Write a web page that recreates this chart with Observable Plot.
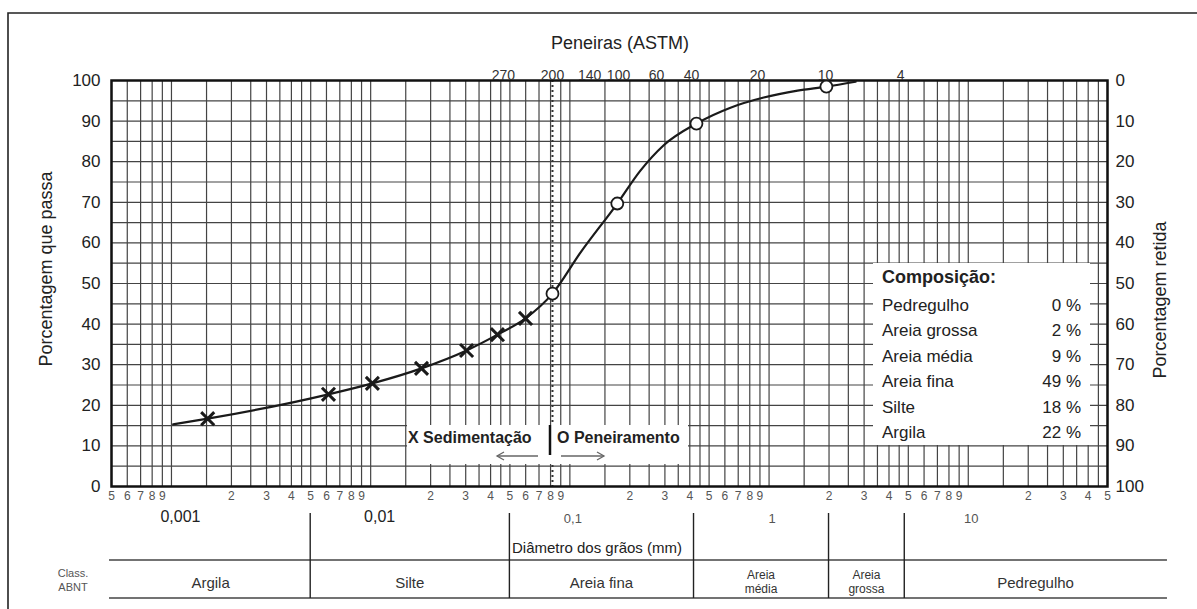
<!DOCTYPE html>
<html><head><meta charset="utf-8">
<script src="https://cdn.jsdelivr.net/npm/d3@7"></script>
<script src="https://cdn.jsdelivr.net/npm/@observablehq/plot@0.6"></script>
<style>
body{margin:0;background:#fff;}
#chart svg{display:block;}
</style></head><body><div id="chart"></div>
<script>
// ---- data ----
const sedDiam = [0.00152, 0.00614, 0.0102, 0.0180, 0.0303, 0.0433, 0.0599];
const sedPass = [16.7, 22.7, 25.4, 29.1, 33.5, 37.4, 41.4];
const sieveDiam = [0.0818, 0.173, 0.432, 1.94];
const sievePass = [47.5, 69.7, 89.4, 98.5];
const curveDiam = [0.00102, 0.00152, 0.00614, 0.0102, 0.0180, 0.0303, 0.0433, 0.0599, 0.0818, 0.113, 0.173, 0.226, 0.295, 0.432, 0.640, 0.94, 1.39, 1.94, 2.72];
const curvePass = [15.3, 16.7, 22.7, 25.4, 29.1, 33.5, 37.4, 41.4, 47.5, 57.6, 69.7, 77.8, 84.0, 89.4, 93.3, 95.8, 97.5, 98.5, 99.7];
const sieveNums = ["270", "200", "140", "100", "60", "40", "20", "10", "4"];
const sieveLabelDiam = [0.0464, 0.0818, 0.1256, 0.1755, 0.272, 0.408, 0.875, 1.92, 4.57];
const no200 = [0.0818];
const decadeVals = [0.001, 0.01, 0.1, 1, 10];
const decadeLabels = ["0,001", "0,01", "0,1", "1", "10"];
const yTicks = [0, 10, 20, 30, 40, 50, 60, 70, 80, 90, 100];
const classBounds = [0.0005, 0.005, 0.05, 0.42, 2.0, 4.8, 100];
const classNames = ["Argila", "Silte", "Areia fina", "Areia\nmédia", "Areia\ngrossa", "Pedregulho"];
const compNames = ["Pedregulho", "Areia grossa", "Areia média", "Areia fina", "Silte", "Argila"];
const compValues = [0, 2, 9, 49, 18, 22];

// grid (semilog paper subdivisions)
const subdiv = [1, 1.5, 2, 2.5, 3, 3.5, 4, 4.5, 5, 6, 7, 8, 9];
const vGrid = [];
for (let k = -4; k <= 1; k++) for (const m of subdiv) { const v = +(m * 10 ** k).toPrecision(3); if (v >= 0.0005 && v <= 50) vGrid.push(v); }
const hGrid = d3.range(0, 101, 5);
const minorTicks = [];
for (let k = -4; k <= 1; k++) for (let m = 2; m <= 9; m++) { const v = +(m * 10 ** k).toPrecision(3); if (v >= 0.0005 && v <= 50) minorTicks.push({d: v, t: String(m)}); }

const sed = sedDiam.map((d, i) => ({d, p: sedPass[i]}));
const siv = sieveDiam.map((d, i) => ({d, p: sievePass[i]}));
const crv = curveDiam.map((d, i) => ({d, p: curvePass[i]}));
const sieveLab = sieveNums.map((t, i) => ({t, d: sieveLabelDiam[i]}));
const decs = decadeVals.map((d, i) => ({d, t: decadeLabels[i]}));

const FONT = "Liberation Sans, Arial, Helvetica, sans-serif";
const W = 1197, H = 609;

const plot = Plot.plot({
  width: W, height: H,
  marginLeft: 111, marginRight: 90, marginTop: 80, marginBottom: 123,
  style: {fontFamily: FONT, background: "#fff", color: "#222"},
  x: {type: "log", domain: [0.0005, 50], axis: null},
  y: {domain: [0, 100], axis: null},
  marks: [
    Plot.ruleX(vGrid, {stroke: "#444", strokeWidth: 1.2}),
    Plot.ruleY(hGrid, {stroke: "#444", strokeWidth: 1.2}),
    Plot.ruleX(no200, {stroke: "#333", strokeWidth: 2, strokeDasharray: "2,3"}),
    Plot.frame({stroke: "#111", strokeWidth: 2.5}),
    Plot.axisY({ticks: yTicks, tickSize: 0, tickPadding: 11, fontSize: 17, label: null}),
    Plot.axisY({anchor: "right", ticks: yTicks, tickSize: 0, tickPadding: 8, fontSize: 17, tickFormat: d => 100 - d, label: null}),
    Plot.text(minorTicks, {x: "d", text: "t", frameAnchor: "bottom", dy: 13, fontSize: 12, fill: "#555"}),
    Plot.text(decs.slice(0, 2), {x: "d", text: "t", frameAnchor: "bottom", dy: 35, dx: 9, fontSize: 16, fill: "#222"}),
    Plot.text(decs.slice(2), {x: "d", text: "t", frameAnchor: "bottom", dy: 36, dx: 3, fontSize: 13, fill: "#555"}),
    Plot.text(sieveLab, {x: "d", text: "t", frameAnchor: "top", dy: -10, fontSize: 14, fill: "#333"}),
    Plot.line(crv, {x: "d", y: "p", curve: "monotone-x", stroke: "#1a1a1a", strokeWidth: 2.2}),
    Plot.dot(sed, {x: "d", y: "p", symbol: "times", r: 6, stroke: "#1a1a1a", strokeWidth: 3}),
    Plot.dot(siv, {x: "d", y: "p", r: 6, fill: "#fff", stroke: "#1a1a1a", strokeWidth: 1.8})
  ]
});
document.getElementById("chart").appendChild(plot);

const xs = plot.scale("x").apply;
const svg = d3.select(plot);
const g = svg.append("g").attr("font-family", FONT).attr("text-anchor", "start");

// outer frame (partly cut off at right/bottom)
g.append("path").attr("d", `M8,${H} V13 H${W}`).attr("fill", "none").attr("stroke", "#222").attr("stroke-width", 1.6);

// titles
g.append("text").attr("x", 620).attr("y", 49).attr("text-anchor", "middle").attr("font-size", 18).attr("fill", "#222").text("Peneiras (ASTM)");
g.append("text").attr("transform", "translate(52,269) rotate(-90)").attr("text-anchor", "middle").attr("font-size", 18).attr("fill", "#222").text("Porcentagem que passa");
g.append("text").attr("transform", "translate(1166,300) rotate(-90)").attr("text-anchor", "middle").attr("font-size", 18).attr("fill", "#222").text("Porcentagem retida");
g.append("text").attr("x", 597).attr("y", 553).attr("text-anchor", "middle").attr("font-size", 15).attr("fill", "#222").text("Diâmetro dos grãos (mm)");

// ABNT classification table
const t0 = xs(classBounds[0]) - 2, t1 = xs(classBounds[classBounds.length - 1]);
[560, 598].forEach(y => g.append("line").attr("x1", t0).attr("x2", t1).attr("y1", y).attr("y2", y).attr("stroke", "#444").attr("stroke-width", 1.6));
classBounds.slice(1, -1).forEach(b => g.append("line").attr("x1", xs(b)).attr("x2", xs(b)).attr("y1", 513).attr("y2", 598).attr("stroke", "#222").attr("stroke-width", 1.4));
classNames.forEach((n, i) => {
  const cx = (xs(classBounds[i]) + xs(classBounds[i + 1])) / 2;
  const lines = n.split("\n");
  if (lines.length === 1) {
    g.append("text").attr("x", cx).attr("y", 588).attr("text-anchor", "middle").attr("font-size", 15).attr("fill", "#333").text(n);
  } else {
    lines.forEach((l, j) => g.append("text").attr("x", cx).attr("y", 579 + j * 14).attr("text-anchor", "middle").attr("font-size", 12).attr("fill", "#333").text(l));
  }
});
g.append("text").attr("x", 73).attr("y", 577).attr("text-anchor", "middle").attr("font-size", 11).attr("fill", "#555").text("Class.");
g.append("text").attr("x", 73).attr("y", 591).attr("text-anchor", "middle").attr("font-size", 11).attr("fill", "#555").text("ABNT");

// Sedimentação / Peneiramento legend
g.append("rect").attr("x", 407).attr("y", 425).attr("width", 281).attr("height", 39).attr("fill", "#fff");
g.append("text").attr("x", 408).attr("y", 443).attr("font-size", 16).attr("font-weight", "bold").attr("fill", "#222").text("X Sedimentação");
g.append("text").attr("x", 557).attr("y", 443).attr("font-size", 16).attr("font-weight", "bold").attr("fill", "#222").text("O Peneiramento");
g.append("line").attr("x1", 550).attr("x2", 550).attr("y1", 425).attr("y2", 455).attr("stroke", "#111").attr("stroke-width", 2.5);
const arrow = (xa, xb) => {
  g.append("line").attr("x1", xa).attr("x2", xb).attr("y1", 456).attr("y2", 456).attr("stroke", "#666").attr("stroke-width", 1.3);
  const s = Math.sign(xb - xa);
  g.append("path").attr("d", `M${xb - s * 7},452 L${xb},456 L${xb - s * 7},460`).attr("fill", "none").attr("stroke", "#666").attr("stroke-width", 1.3);
};
arrow(538, 497);
arrow(561, 604);

// Composição box
g.append("rect").attr("x", 873).attr("y", 263).attr("width", 217).attr("height", 182).attr("fill", "#fff");
g.append("text").attr("x", 882).attr("y", 283).attr("font-size", 18).attr("font-weight", "bold").attr("fill", "#222").text("Composição:");
compNames.forEach((n, i) => {
  const y = 311 + i * 25.4;
  g.append("text").attr("x", 882).attr("y", y).attr("font-size", 17).attr("fill", "#222").text(n);
  g.append("text").attr("x", 1081).attr("y", y).attr("text-anchor", "end").attr("font-size", 17).attr("fill", "#222").text(compValues[i] + " %");
});
</script></body></html>
